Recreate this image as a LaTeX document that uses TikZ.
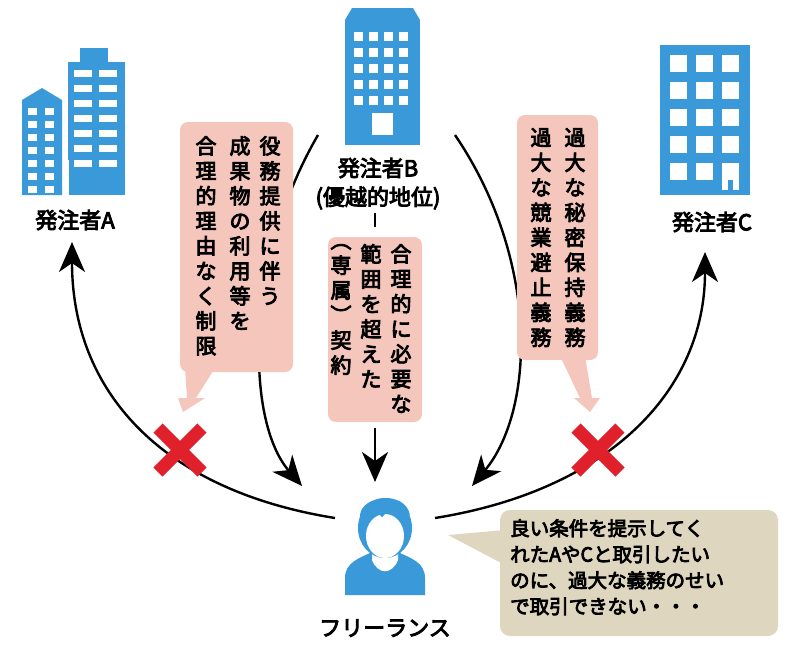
\documentclass[tikz,border=0pt]{standalone}
\usepackage{fontspec}
\setmainfont{Noto Sans CJK JP}[AutoFakeBold=4]
\usetikzlibrary{arrows.meta}
\definecolor{bblue}{HTML}{3A9AD9}
\definecolor{pinkc}{HTML}{F4C6BC}
\definecolor{tanc}{HTML}{DED6BF}
\definecolor{xred}{HTML}{E0202A}
\tikzset{
 vcol/.style={anchor=north,align=center,inner sep=0pt,font=\fontsize{21}{25}\selectfont\bfseries},
 lab/.style={font=\fontsize{22}{26}\selectfont\bfseries},
 arr/.style={line width=2.4pt,-{Stealth[length=30pt,width=26pt,inset=9pt]}},
 plain/.style={line width=2.4pt},
 win/.style={fill=white,draw=none},
 xmark/.style={xred,line width=13pt}
}
\begin{document}
\begin{tikzpicture}[x=1pt,y=-1pt]
\useasboundingbox (0,0) rectangle (800,670);
% arcs from B
\draw[arr] (318,135) .. controls (245,260) and (245,420) .. (302,486);
\draw[arr] (455,135) .. controls (540,260) and (535,410) .. (472,486);
% Buildings
\fill[bblue] (22,100) -- (42,88) -- (62,100) -- (62,195) -- (22,195) -- cycle;
\foreach \r in {0,...,6}{\fill[win] (28,{108+\r*13}) rectangle +(9,7); \fill[win] (45,{108+\r*13}) rectangle +(9,7);}
\fill[bblue] (68,62) rectangle (125,195);
\fill[bblue] (80,48) rectangle (108,62);
\foreach \r in {0,...,6}{\fill[win] (74,{70+\r*15}) rectangle +(18,7); \fill[win] (99,{70+\r*15}) rectangle +(18,7);}
\fill[white] (66,160) rectangle (69,195);
\fill[bblue] (345,20) rectangle (420,145);
\fill[bblue] (352,8) -- (413,8) -- (420,20) -- (345,20) -- cycle;
\foreach \r in {0,...,4}{\foreach \c in {0,...,3}{\fill[win] ({354+\c*15},{32+\r*16}) rectangle +(9,9);}}
\fill[win] (372,113) rectangle (393,135);
\fill[bblue] (660,45) rectangle (750,195);
\foreach \r in {0,...,4}{\foreach \c in {0,...,2}{\fill[win] ({670+\c*26},{55+\r*27}) rectangle +(17,17);}}
\fill[win] (722,163) rectangle (728,190);
\fill[win] (733,163) rectangle (739,190);
% labels
\node[lab] (A) at (75,220) {発注者A};
\node[lab] (B) at (378,168) {発注者B};
\node[lab] (B2) at (378,198) {(優越的地位)};
\node[lab] (C) at (712,222) {発注者C};
\draw[plain] (375,213) -- (375,227);
% pink boxes
\fill[pinkc,rounded corners=8pt] (180,122) rectangle (293,372);
\fill[pinkc] (185,368) -- (215,368) -- (196,398) -- (205,398) -- (183,412) -- (178,398) -- (187,398) -- cycle;
\node[vcol] (L1) at (270,136) {役\\務\\提\\供\\に\\伴\\う};
\node[vcol] (L2) at (240,136) {成\\果\\物\\の\\利\\用\\等\\を};
\node[vcol] (L3) at (206,136) {合\\理\\的\\理\\由\\な\\く\\制\\限};
\fill[pinkc,rounded corners=8pt] (328,237) rectangle (422,422);
\node[vcol] (M1) at (401,244) {合\\理\\的\\に\\必\\要\\な};
\node[vcol] (M2) at (371,244) {範\\囲\\を\\超\\え\\た};
\node[vcol] (M3) at (341,244) {︵\\専\\属\\︶\\契\\約};
\fill[pinkc,rounded corners=8pt] (517,115) rectangle (598,360);
\fill[pinkc] (560,356) -- (585,356) -- (592,398) -- (600,398) -- (590,412) -- (574,398) -- (580,398) -- cycle;
\node[vcol] (R1) at (575,128) {過\\大\\な\\秘\\密\\保\\持\\義\\務};
\node[vcol] (R2) at (541,128) {過\\大\\な\\競\\業\\避\\止\\義\\務};
% center arrow
\draw[arr] (375,428) -- (375,482);
% freelancer connectors
\coordinate (fl) at (335,518);
\coordinate (fr) at (435,518);
\draw[arr] (fl) .. controls (160,490) and (72,390) .. (72,242);
\draw[arr] (fr) .. controls (610,490) and (705,390) .. (705,252);
\draw[xmark] (158,428) -- (202,472); \draw[xmark] (202,428) -- (158,472);
\draw[xmark] (576,428) -- (620,472); \draw[xmark] (620,428) -- (576,472);
% person icon
\fill[bblue] (345,595) -- (345,578) .. controls (345,562) and (360,558) .. (372,552) -- (398,552) .. controls (410,558) and (425,562) .. (425,578) -- (425,595) -- cycle;
\fill[white] (372,548) -- (398,548) -- (398,560) .. controls (392,575) and (378,575) .. (372,560) -- cycle;
\fill[bblue] (385,528) ellipse (27 and 30);
\fill[white] (385,536) ellipse (19 and 22);
\fill[bblue] (360,515) .. controls (362,495) and (405,490) .. (410,515) .. controls (400,508) and (390,508) .. (382,517) .. controls (375,510) and (368,512) .. (360,520) -- cycle;
\node[lab] (F) at (385,628) {フリーランス};
% speech bubble
\fill[tanc,rounded corners=10pt] (500,510) rectangle (778,636);
\fill[tanc] (505,530) -- (448,535) -- (505,565) -- cycle;
\node[anchor=north west,align=left,inner sep=0pt,font=\fontsize{19.5}{26}\selectfont\bfseries] (S) at (510,519) {良い条件を提示してく\\れたAやCと取引したい\\のに、過大な義務のせい\\で取引できない・・・};
\end{tikzpicture}
\end{document}
